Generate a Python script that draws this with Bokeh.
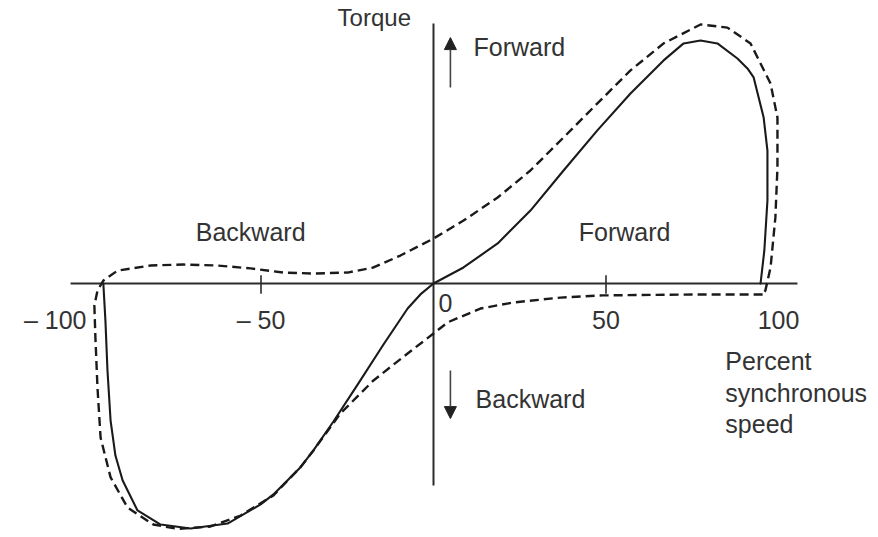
from bokeh.plotting import figure
from bokeh.models import Range1d, Arrow, NormalHead
from bokeh.core.properties import value
from bokeh.embed import file_html
from bokeh.resources import INLINE

# ---- data (percent synchronous speed, relative torque) ----
solid_speed = [-95.7, -95.1, -94.5, -93.6, -92.2, -90.1, -85.8, -79.1, -70.4, -59.7,
               -50.1, -46.4, -38.6, -34.8, -29.0, -22.0, -14.5, -7.5, -3.8, 0.0,
               8.7, 18.6, 28.1, 37.7, 47.5, 57.1, 66.7, 72.5, 77.4, 82.3,
               88.1, 91.0, 92.8, 95.7, 96.8, 96.8, 95.9, 94.8]
solid_torque = [0.0, -15.2, -35.8, -56.4, -70.8, -81.1, -93.4, -99.2, -100.8, -98.8,
                -90.9, -86.8, -75.7, -68.7, -56.8, -41.6, -25.1, -10.3, -4.5, 0.0,
                6.6, 16.5, 30.0, 46.5, 63.0, 78.2, 91.8, 98.8, 100.0, 98.8,
                92.6, 88.5, 84.8, 68.3, 54.7, 34.2, 13.6, 0.0]

dashed_speed = [95.4, 77.4, 49.0, 36.8, 23.2, 13.6, 4.1, 0.0, -7.5, -17.4,
                -27.0, -34.8, -38.6, -46.4, -55.9, -64.6, -74.2, -81.2, -88.7, -93.6,
                -96.5, -97.4, -98.0, -98.3, -97.4, -95.7, -91.6, -82.0, -72.5, -62.6,
                -53.0, -43.5, -34.8, -24.9, -17.4, -9.6, 0.0, 8.7, 18.6, 28.1,
                37.7, 47.5, 57.1, 66.7, 77.4, 85.2, 91.9, 97.7, 99.7, 99.7,
                99.1, 97.7, 96.2, 95.4]
dashed_torque = [-4.5, -4.5, -4.9, -5.8, -7.8, -10.3, -16.0, -20.6, -28.8, -39.9,
                 -53.5, -68.7, -75.7, -87.2, -95.5, -100.0, -101.0, -99.2, -92.2, -79.8,
                 -63.4, -42.8, -22.2, -9.1, -2.9, 1.2, 5.3, 7.4, 7.8, 7.4,
                 6.2, 4.5, 4.1, 4.5, 6.6, 11.5, 18.5, 25.9, 35.4, 46.5,
                 60.1, 74.1, 87.7, 98.8, 106.6, 105.3, 98.8, 82.3, 68.3, 47.7,
                 27.2, 6.6, -2.9, -4.5]

tick_values = [-100, -50, 0, 50, 100]
tick_labels = ["\u2013 100", "\u2013 50", "0", "50", "100"]
tick_marks = [-50, 50]

FONT = value("Liberation Sans")
INK = "#1a1a1a"
TXT = "#333333"

p = figure(width=878, height=537, output_backend="svg", toolbar_location=None,
           x_range=Range1d(-125.51, 128.99), y_range=Range1d(-104.53, 116.46),
           min_border=0, background_fill_color="white", border_fill_color="white")
p.xaxis.visible = False
p.yaxis.visible = False
p.grid.visible = False
p.outline_line_color = None

# hand-drawn style axes through the origin
p.segment(x0=[-105.2], y0=[0], x1=[105.5], y1=[0], line_color="#2b2b2b", line_width=2)
p.segment(x0=[0], y0=[-83.1], x1=[0], y1=[107.0], line_color="#2b2b2b", line_width=2)
p.segment(x0=tick_marks, y0=[3.4] * len(tick_marks), x1=tick_marks, y1=[-4.2] * len(tick_marks),
          line_color="#2b2b2b", line_width=1.6)

# curves
p.line(dashed_speed, dashed_torque, line_color=INK, line_width=2.4, line_dash="9 5",
       line_join="round")
p.line(solid_speed, solid_torque, line_color=INK, line_width=2.1, line_join="round",
       line_cap="round")

# tick labels
p.text(x=[-100], y=[-15.2], text=[tick_labels[0]], text_font=FONT, text_font_size="25px",
       text_color=TXT, text_align="right", text_baseline="middle", x_offset=-2)
p.text(x=[-50, 50, 100], y=[-15.2] * 3, text=tick_labels[1:2] + tick_labels[3:],
       text_font=FONT, text_font_size="25px", text_color=TXT,
       text_align="center", text_baseline="middle")
p.text(x=[0], y=[-8.2], text=[tick_labels[2]], text_font=FONT, text_font_size="25px",
       text_color=TXT, text_align="left", text_baseline="middle", x_offset=5)

# annotations
p.text(x=[-27.8], y=[109.5], text=["Torque"], text_font=FONT, text_font_size="24px",
       text_color=TXT, text_align="left", text_baseline="middle")
p.text(x=[11.6], y=[97.5], text=["Forward"], text_font=FONT, text_font_size="25px",
       text_color=TXT, text_align="left", text_baseline="middle")
p.text(x=[12.2], y=[-47.7], text=["Backward"], text_font=FONT, text_font_size="25px",
       text_color=TXT, text_align="left", text_baseline="middle")
p.text(x=[-53.0, 55.4], y=[21.0, 21.0], text=["Backward", "Forward"], text_font=FONT,
       text_font_size="25px", text_color=TXT, text_align="center", text_baseline="middle")
p.text(x=[84.6] * 3, y=[-32.1, -45.2, -58.0], text=["Percent", "synchronous", "speed"],
       text_font=FONT, text_font_size="25px", text_color=TXT, text_align="left",
       text_baseline="middle")

p.add_layout(Arrow(end=NormalHead(size=12, fill_color="#222222", line_color="#222222"),
                   x_start=4.9, y_start=80.7, x_end=4.9, y_end=101.2,
                   line_color="#444444", line_width=1.6))
p.add_layout(Arrow(end=NormalHead(size=12, fill_color="#222222", line_color="#222222"),
                   x_start=4.9, y_start=-35.8, x_end=4.9, y_end=-55.6,
                   line_color="#444444", line_width=1.6))

open("out.html", "w").write(file_html(p, INLINE))
